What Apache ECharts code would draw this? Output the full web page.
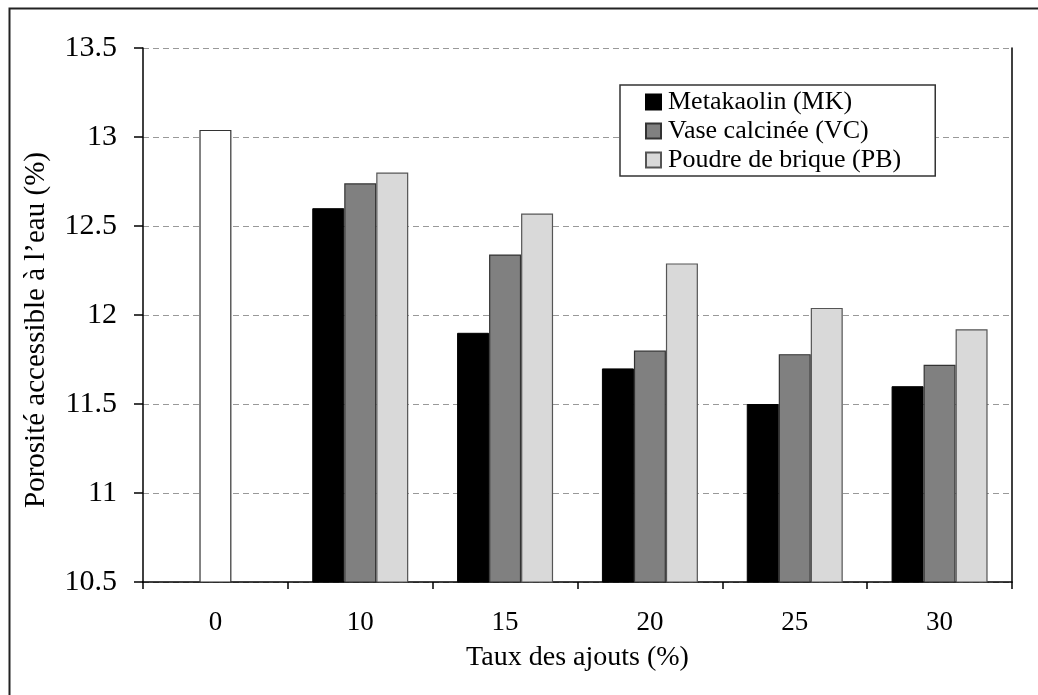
<!DOCTYPE html>
<html>
<head>
<meta charset="utf-8">
<script src="https://cdn.jsdelivr.net/npm/echarts@6/dist/echarts.min.js"></script>
<style>
  html, body { margin: 0; padding: 0; background: #fff; }
  #chart { width: 1038px; height: 695px; }
</style>
</head>
<body>
<div id="chart"></div>
<script>
// Taux des ajouts (%)
const categories = ['0', '10', '15', '20', '25', '30'];
// porosité (%)
const temoin = [13.04, '-', '-', '-', '-', '-'];
const metakaolin = ['-', 12.6, 11.9, 11.7, 11.5, 11.6];
const vaseCalcinee = ['-', 12.74, 12.34, 11.8, 11.78, 11.72];
const poudreBrique = ['-', 12.8, 12.57, 12.29, 12.04, 11.92];

const FONT = '"Liberation Serif", "Times New Roman", serif';

const chart = echarts.init(document.getElementById('chart'));

chart.setOption({
  backgroundColor: '#fff',
  animation: false,
  textStyle: { fontFamily: FONT, color: '#000' },
  graphic: [
    {
      type: 'rect',
      left: 7,
      top: 6,
      shape: { width: 1200, height: 900 },
      style: { fill: 'none', stroke: '#222', lineWidth: 2 },
      silent: true,
    },
  ],
  grid: { left: 143, right: 26, top: 48, bottom: 113 },
  legend: {
    orient: 'vertical',
    left: 620,
    top: 85,
    data: ['Metakaolin (MK)', 'Vase calcinée (VC)', 'Poudre de brique (PB)'],
    icon: 'rect',
    itemWidth: 15,
    itemHeight: 15,
    itemGap: 3,
    padding: [4, 34, 3, 25],
    backgroundColor: '#fff',
    borderColor: '#333',
    borderWidth: 1.5,
    textStyle: { fontFamily: FONT, fontSize: 26, color: '#000', lineHeight: 26, padding: [0, 0, 0, 2] },
  },
  xAxis: [
    {
      type: 'category',
      data: categories,
      name: 'Taux des ajouts (%)',
      nameLocation: 'middle',
      nameGap: 62,
      nameTextStyle: { fontFamily: FONT, fontSize: 28, color: '#000' },
      axisLine: { lineStyle: { color: '#000', width: 1.5 } },
      axisTick: { show: true, length: 7, lineStyle: { color: '#000', width: 1.5 } },
      axisLabel: { fontFamily: FONT, fontSize: 27, color: '#000', margin: 27 },
    },
    {
      type: 'category',
      data: categories,
      show: false,
    },
  ],
  yAxis: [
    {
      type: 'value',
      min: 10.5,
      max: 13.5,
      interval: 0.5,
      name: 'Porosité accessible à l\u2019eau (%)',
      nameLocation: 'middle',
      nameGap: 92,
      nameTextStyle: { fontFamily: FONT, fontSize: 29, color: '#000', padding: [0, 30, 0, 0] },
      axisLine: { show: true, lineStyle: { color: '#000', width: 1.5 } },
      axisTick: { show: true, length: 9, lineStyle: { color: '#000', width: 1.5 } },
      axisLabel: { fontFamily: FONT, fontSize: 30, color: '#000', margin: 26 },
      splitLine: { show: true, lineStyle: { color: '#999', type: [6, 4], width: 1.2 } },
    },
    {
      type: 'value',
      min: 10.5,
      max: 13.5,
      interval: 0.5,
      position: 'right',
      axisLine: { show: true, lineStyle: { color: '#000', width: 1.5 } },
      axisTick: { show: false },
      axisLabel: { show: false },
      splitLine: { show: false },
    },
  ],
  series: [
    {
      name: 'Témoin',
      type: 'bar',
      xAxisIndex: 1,
      barWidth: 32,
      data: temoin,
      itemStyle: { color: '#fff', borderColor: '#333', borderWidth: 1.2 },
    },
    {
      name: 'Metakaolin (MK)',
      type: 'bar',
      barWidth: 32,
      barGap: '0%',
      data: metakaolin,
      itemStyle: { color: '#000', borderColor: '#000', borderWidth: 1 },
    },
    {
      name: 'Vase calcinée (VC)',
      type: 'bar',
      barWidth: 32,
      barGap: '0%',
      data: vaseCalcinee,
      itemStyle: { color: '#808080', borderColor: '#333', borderWidth: 1.2 },
    },
    {
      name: 'Poudre de brique (PB)',
      type: 'bar',
      barWidth: 32,
      barGap: '0%',
      data: poudreBrique,
      itemStyle: { color: '#d9d9d9', borderColor: '#555', borderWidth: 1.2 },
    },
  ],
});
</script>
</body>
</html>
